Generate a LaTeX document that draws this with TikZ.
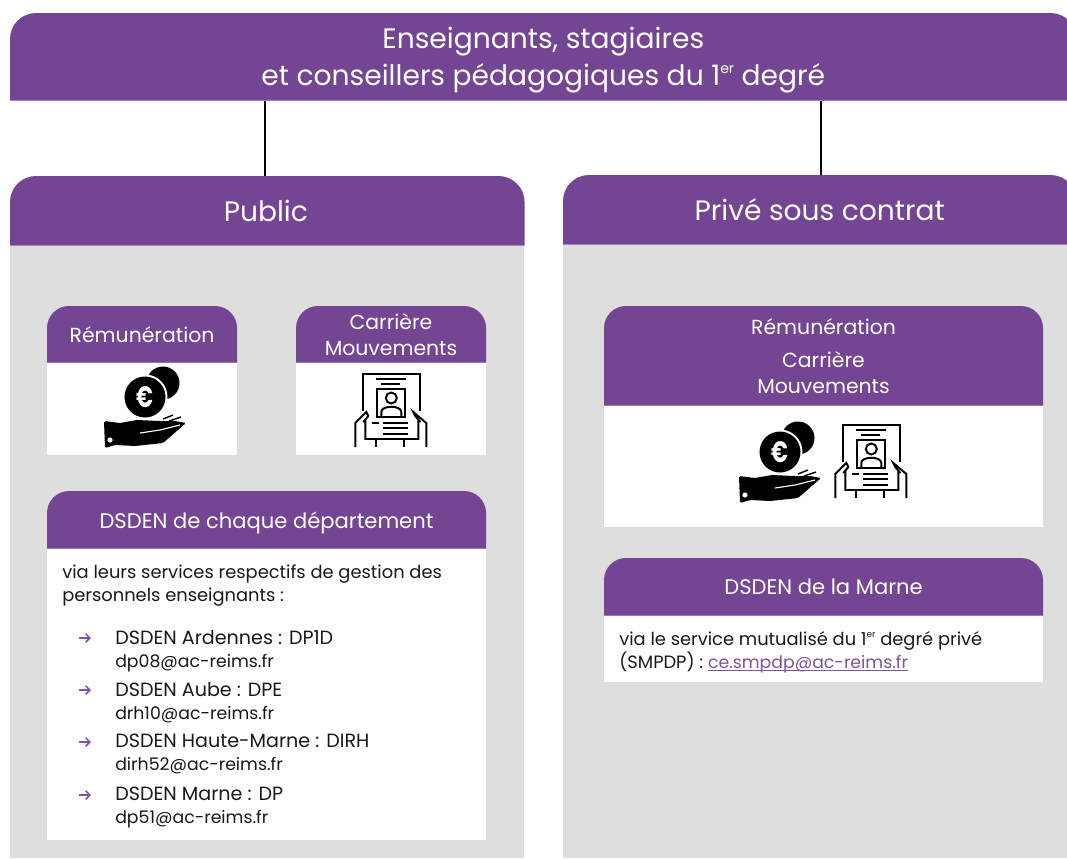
\documentclass[tikz,border=0pt]{standalone}
\usepackage{fontspec}
\setmainfont{Poppins}
\usepackage{tikz}
\usetikzlibrary{backgrounds,positioning,arrows.meta}
\definecolor{entetepurple}{RGB}{116,69,146}
\definecolor{panelgray}{RGB}{222,222,222}
\definecolor{linkpurple}{RGB}{124,84,160}
\newcommand{\eu}[1]{#1\raisebox{0.42em}{\scalebox{0.5}{er}}}
\tikzset{
  entete/.style 2 args={text=white,inner sep=0pt,align=center,anchor=north west,minimum width=#1*0.025cm,minimum height=#2*0.025cm},
  grand/.style={font=\fontsize{20}{26.3}\selectfont},
  moyen/.style={font=\fontsize{14.5}{18.5}\selectfont},
  moyenplus/.style={font=\fontsize{15}{18.5}\selectfont,text depth=0pt},
  corps/.style={text=black!90,inner sep=0pt,align=left,anchor=north west,font=\fontsize{12.7}{16.3}\selectfont},
  trait/.style={black,line width=1.4pt},
  pics/coin/.style={code={
    \fill[black] (18,-14) circle (16.5);
    \fill[white] (0,0) circle (22.5);
    \fill[black] (0,0) circle (20.5);
    \node[text=white,font=\bfseries\fontsize{21}{21}\selectfont,inner sep=0pt] at (0,0) {\scalebox{.72}[1]{€}};
    \fill[black,rounded corners=1] (-41,24) -- (-25,26) -- (-8,23) -- (14,24) -- (30,24) -- (41,26) -- (18,46) -- (-10,49) -- (-30,48) -- (-40,51) -- cycle;
    \fill[white] (-35,43) circle (2.6);
    \draw[white,line width=0.8pt] (-5,36) -- (15,33) -- (35,28);
    \draw[black,line width=1pt] (18,22) -- (28,18) (24,24) -- (36,20);
  }},
  pics/fiche/.style={code={
    \draw[trait] (0,37) -- (0,0) -- (57,0) -- (57,37);
    \draw[trait] (14,15) rectangle (42,43);
    \draw[trait] (28,24) circle (5.5);
    \draw[trait] (18,43) -- (18,38) .. controls (18,31) and (38,31) .. (38,38) -- (38,43);
    \draw[trait] (13,5) -- (43,5) (18,10) -- (37,10);
    \draw[trait] (9,49) -- (16,49) (20,49) -- (45,49) (20,54) -- (45,54) (20,60) -- (45,60);
    \draw[trait] (-8,73) -- (-8,49) -- (3,38) -- (5,42) -- (0,48) (2,46) -- (2,65) -- (55,65) -- (55,46) (57,48) -- (52,42) -- (50,38) -- (63,49) -- (63,73);
    \draw[trait] (13,65) -- (13,73) (41,65) -- (41,73);
  }}
}
\begin{document}
\begin{tikzpicture}[x=0.025cm,y=-0.025cm]
  \useasboundingbox (0,0) rectangle (1067,858);
  % titres
  \node[entete={1066}{87},grand] (titre) at (10,13) {\rule{0pt}{20pt}Enseignants, stagiaires\\et conseillers pédagogiques du \eu{1} degré};
  \node[entete={514}{69},grand] (public) at (10,176) {Public\hspace*{2pt}};
  \node[entete={513}{69},grand] (prive) at (563,175) {Privé sous contrat};
  \coordinate (lienpublic) at (265,176);
  \coordinate (lienprive) at (821,175);
  % cadres
  \node[entete={189.5}{56},moyen] (remun) at (47,306) {Rémunération};
  \node[entete={189.5}{56},moyen] (carriere) at (296,306) {Carrière\\Mouvements};
  \node[entete={438.5}{57},moyenplus] (dsden) at (47,491) {DSDEN de chaque département};
  \node[entete={438.5}{99},moyen] (rc) at (604,306) {Rémunération\\[5pt]Carrière\\Mouvements};
  \node[entete={438.5}{57},moyenplus] (marne) at (604,558) {DSDEN de la Marne};
  \begin{scope}[on background layer]
    \fill[panelgray] (public.south west) rectangle (523.5,858);
    \fill[panelgray] (prive.south west) rectangle (1072,858);
    \fill[white] (remun.south west) rectangle (236.5,455);
    \fill[white] (carriere.south west) rectangle (485.5,455);
    \fill[white] (dsden.south west) rectangle (485.5,840);
    \fill[white] (rc.south west) rectangle (1042.5,527);
    \fill[white] (marne.south west) rectangle (1042.5,682);
    \foreach \n/\r in {titre/26,public/26,prive/26,remun/22,carriere/22,dsden/22,rc/22,marne/22}
      \fill[entetepurple] (\n.south west) [rounded corners=\r*0.025cm] -- (\n.north west) -- (\n.north east) [sharp corners] -- (\n.south east) -- cycle;
  \end{scope}
  \draw[black,line width=1.4pt] (lienpublic |- titre.south) -- (lienpublic);
  \draw[black,line width=1.4pt] (lienprive |- titre.south) -- (lienprive);
  % icones
  \pic at (145,397) {coin};
  \pic at (780,452) {coin};
  \pic at (363.3,374) {fiche};
  \pic at (843.3,425) {fiche};
  % textes
  \node[corps] (via) at (62,564.5) {via leurs services respectifs de gestion des\\personnels enseignants :};
  \foreach \y/\a/\b in {630/DSDEN Ardennes : DP1D/dp08@ac-reims.fr,
                        682/DSDEN Aube : DPE/drh10@ac-reims.fr,
                        734/DSDEN Haute-Marne : DIRH/dirh52@ac-reims.fr,
                        787/DSDEN Marne : DP/dp51@ac-reims.fr} {
    \node[corps] (d\y) at (115,\y) {{\fontsize{13.6}{16.3}\selectfont\a}\\{\fontsize{12.3}{15}\selectfont\b}};
    \draw[-{Straight Barb[length=3pt,width=6pt]},linkpurple,line width=1.1pt] (79,\y+8) -- (91,\y+8);
  }
  \node[corps] (viab) at (619,631) {via le service mutualisé du \eu{1} degré privé\\(SMPDP) : \textcolor{linkpurple}{\underline{\smash{\fontsize{12.3}{15}\selectfont ce.smpdp@ac-reims.fr}}}};
\end{tikzpicture}
\end{document}
